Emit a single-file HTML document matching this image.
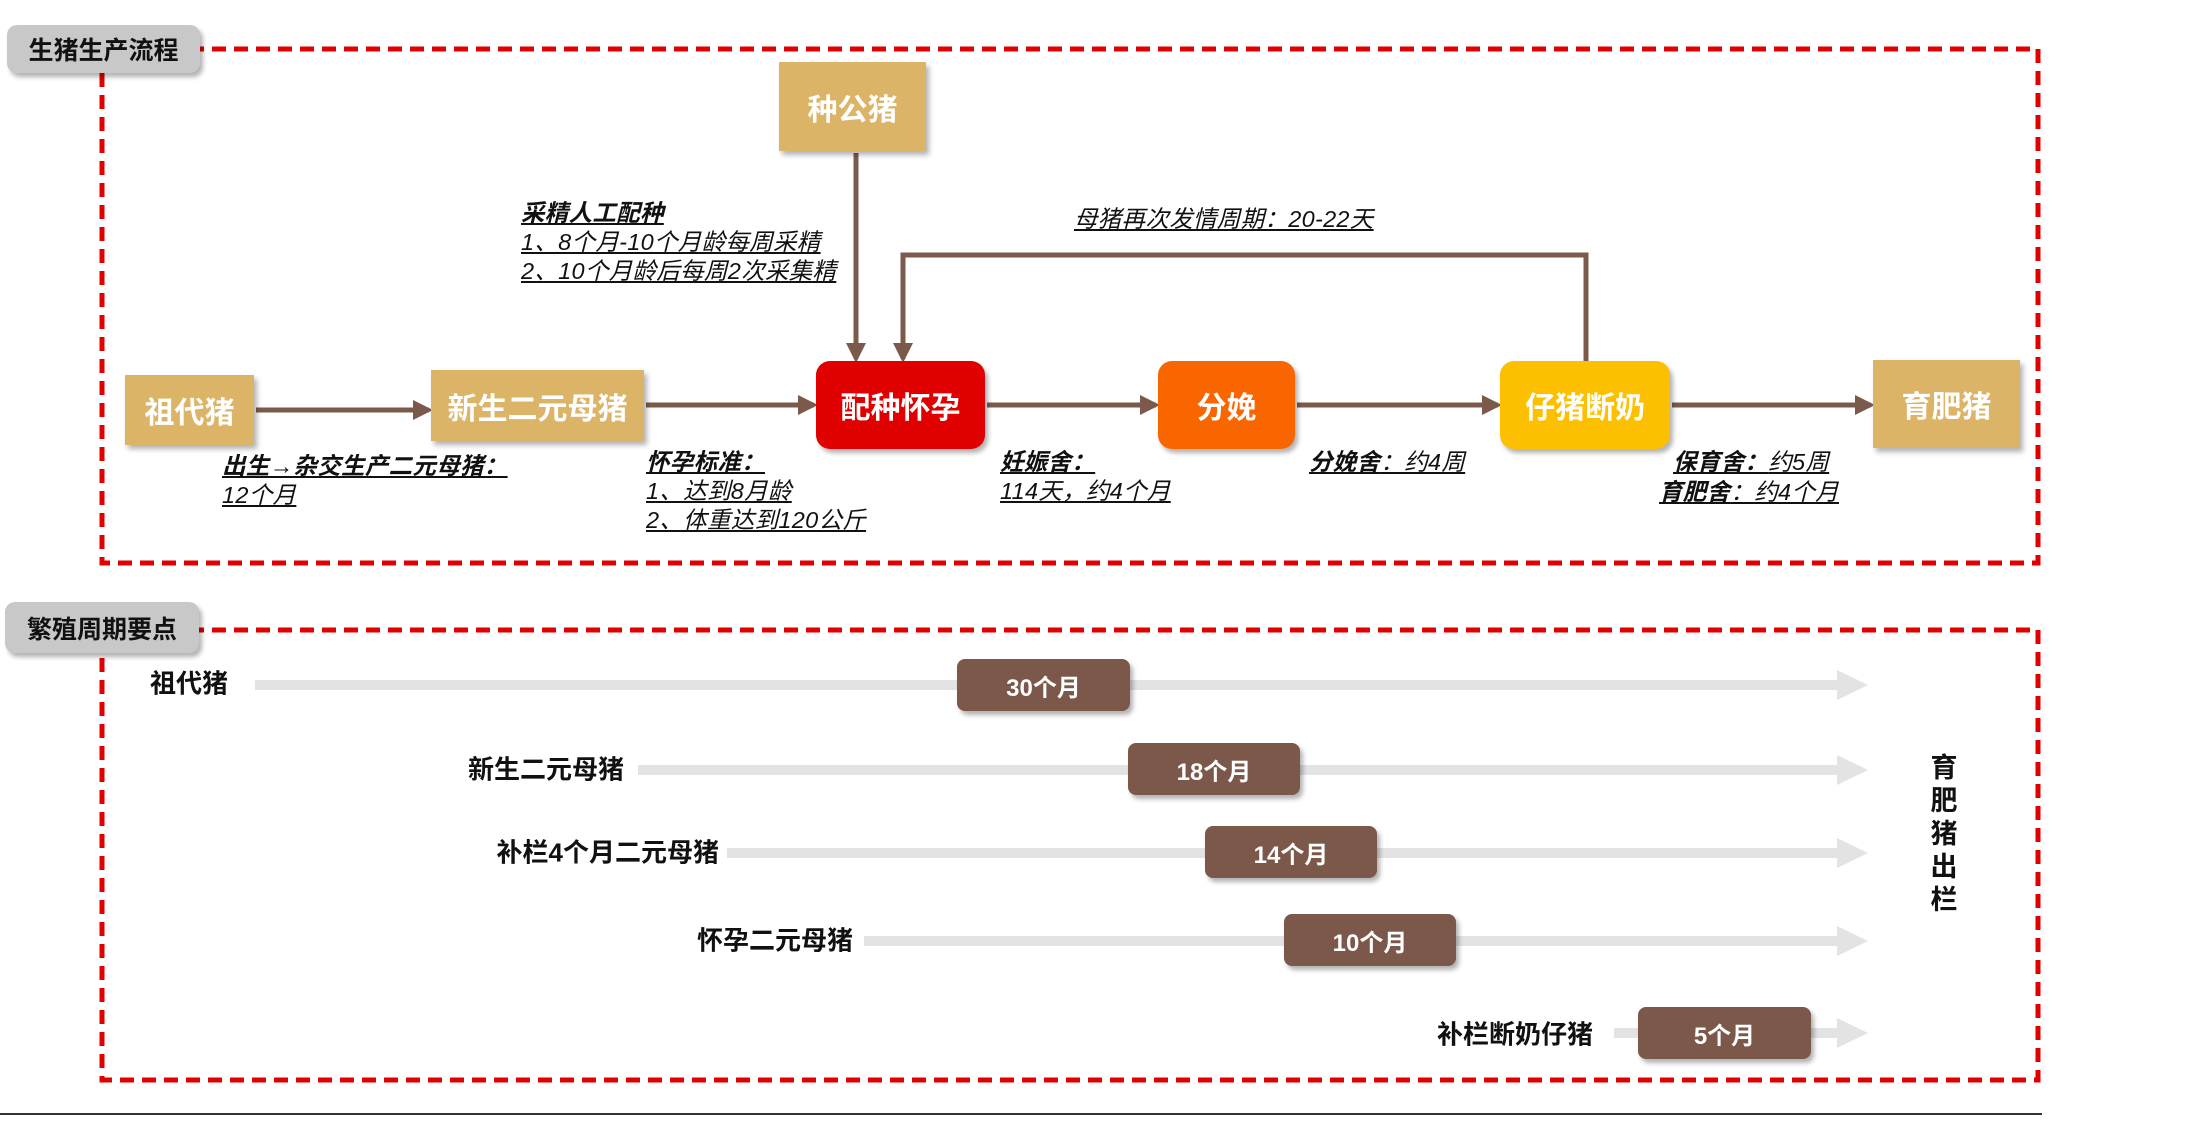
<!DOCTYPE html>
<html><head><meta charset="utf-8"><style>
body{margin:0;width:2210px;height:1124px;background:#fff;position:relative;overflow:hidden;font-family:"Liberation Sans","Noto Sans CJK SC",sans-serif;}
.a{position:absolute;}
.tab{position:absolute;background:#c8c8c8;border-radius:10px;box-shadow:3px 4px 5px rgba(0,0,0,.3);font-weight:bold;font-size:25px;color:#111;display:flex;align-items:center;justify-content:center;}
.n{position:absolute;display:flex;align-items:center;justify-content:center;color:#fff;font-weight:bold;font-size:30px;box-shadow:3px 4px 5px rgba(0,0,0,.3);}
.g{background:#dcb467;}
.r{border-radius:14px;}
.t{position:absolute;font-style:italic;font-size:23.5px;letter-spacing:0.3px;line-height:29px;color:#111;white-space:nowrap;}
.t u{text-decoration:underline;}
.lab{position:absolute;font-weight:bold;font-size:26px;color:#111;white-space:nowrap;transform:translateY(-50%);text-align:right;}
.bx{position:absolute;background:#7b5849;border-radius:8px;color:#fff;font-weight:bold;font-size:24px;display:flex;align-items:center;justify-content:center;box-shadow:3px 4px 5px rgba(0,0,0,.3);}
</style></head><body>
<svg class="a" style="left:0;top:0" width="2210" height="1124">
<defs><marker id="m" markerWidth="4" markerHeight="4" refX="3.2" refY="2" orient="auto" markerUnits="strokeWidth"><path d="M0,0 L4,2 L0,4z" fill="#7b5a4b"/></marker></defs>
<g fill="none" stroke="#e00000" stroke-width="5" stroke-dasharray="14,8">
<rect x="102" y="49" width="1936" height="514"/>
<rect x="102" y="630" width="1936" height="450"/>
</g>
<g stroke="#7b5a4b" stroke-width="5" fill="none" marker-end="url(#m)">
<line x1="256" y1="410" x2="429" y2="410"/>
<line x1="646" y1="405" x2="814" y2="405"/>
<line x1="987" y1="405" x2="1156" y2="405"/>
<line x1="1297" y1="405" x2="1498" y2="405"/>
<line x1="1672" y1="405" x2="1871" y2="405"/>
<line x1="856" y1="153" x2="856" y2="359"/>
<polyline points="1586,361 1586,255 903,255 903,359"/>
</g>
<g fill="#e3e3e3">
<rect x="255" y="680" width="1585" height="10"/><path d="M1837,670 L1868,685 L1837,700z"/>
<rect x="638" y="765" width="1202" height="10"/><path d="M1837,755 L1868,770 L1837,785z"/>
<rect x="727" y="848" width="1113" height="10"/><path d="M1837,838 L1868,853 L1837,868z"/>
<rect x="864" y="936" width="976" height="10"/><path d="M1837,926 L1868,941 L1837,956z"/>
<rect x="1614" y="1028" width="226" height="10"/><path d="M1837,1018 L1868,1033 L1837,1048z"/>
</g>
<line x1="0" y1="1114" x2="2042" y2="1114" stroke="#333" stroke-width="2"/>
</svg>
<div class="tab" style="left:7px;top:25px;width:193px;height:48px">生猪生产流程</div>
<div class="tab" style="left:5px;top:602px;width:194px;height:51px">繁殖周期要点</div>
<div class="n g" style="left:779px;top:62px;width:147px;height:89px">种公猪</div>
<div class="n g" style="left:125px;top:375px;width:129px;height:70px">祖代猪</div>
<div class="n g" style="left:431px;top:370px;width:213px;height:71px">新生二元母猪</div>
<div class="n r" style="left:816px;top:361px;width:169px;height:88px;background:#e00000">配种怀孕</div>
<div class="n r" style="left:1158px;top:361px;width:137px;height:88px;background:#f96600">分娩</div>
<div class="n r" style="left:1500px;top:361px;width:170px;height:88px;background:#fdc000">仔猪断奶</div>
<div class="n g" style="left:1873px;top:360px;width:147px;height:88px">育肥猪</div>
<div class="t" style="left:521px;top:199px"><u><b>采精人工配种</b></u><br><u>1、8个月-10个月龄每周采精</u><br><u>2、10个月龄后每周2次采集精</u></div>
<div class="t" style="left:1074px;top:205px"><u>母猪再次发情周期：20-22天</u></div>
<div class="t" style="left:222px;top:452px"><u><b>出生→杂交生产二元母猪：</b></u><br><u>12个月</u></div>
<div class="t" style="left:646px;top:448px"><u><b>怀孕标准：</b></u><br><u>1、达到8月龄</u><br><u>2、体重达到120公斤</u></div>
<div class="t" style="left:1000px;top:448px"><u><b>妊娠舍：</b></u><br><u>114天，约4个月</u></div>
<div class="t" style="left:1309px;top:448px"><u><b>分娩舍</b>：约4周</u></div>
<div class="t" style="left:1673px;top:448px"><u><b>保育舍：</b>约5周</u></div>
<div class="t" style="left:1659px;top:478px"><u><b>育肥舍</b>：约4个月</u></div>
<div class="lab" style="right:1982px;top:682px">祖代猪</div>
<div class="lab" style="right:1586px;top:768px">新生二元母猪</div>
<div class="lab" style="right:1491px;top:851px">补栏4个月二元母猪</div>
<div class="lab" style="right:1357px;top:939px">怀孕二元母猪</div>
<div class="lab" style="right:617px;top:1033px">补栏断奶仔猪</div>
<div class="bx" style="left:957px;top:659px;width:173px;height:52px">30个月</div>
<div class="bx" style="left:1128px;top:743px;width:172px;height:52px">18个月</div>
<div class="bx" style="left:1205px;top:826px;width:172px;height:52px">14个月</div>
<div class="bx" style="left:1284px;top:914px;width:172px;height:52px">10个月</div>
<div class="bx" style="left:1638px;top:1007px;width:173px;height:52px">5个月</div>
<div class="a" style="left:1930px;top:752px;width:28px;font-weight:bold;font-size:27px;line-height:33px;color:#111;text-align:center">育<br>肥<br>猪<br>出<br>栏</div>
</body></html>
